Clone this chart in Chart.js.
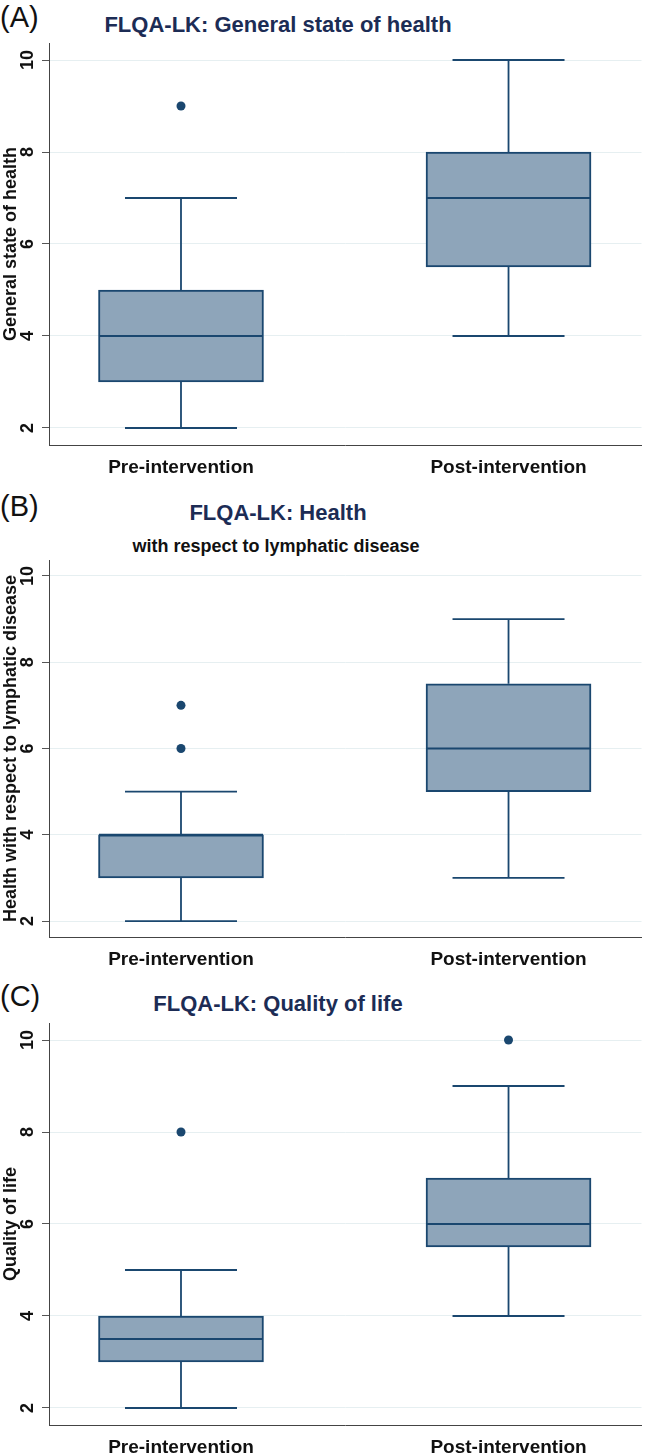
<!DOCTYPE html>
<html>
<head>
<meta charset="utf-8">
<script src="https://cdn.jsdelivr.net/npm/chart.js@4.4.1/dist/chart.umd.min.js"></script>
<style>
  body { margin: 0; background: #fff; width: 646px; height: 1456px; position: relative; overflow: hidden; font-family: "Liberation Sans", Arial, sans-serif; }
  canvas { position: absolute; left: 0; }
  .panel { position: absolute; left: 0; font-size: 29px; line-height: 34px; color: #111; }
  .title { position: absolute; left: 278px; transform: translateX(-50%); white-space: nowrap; font-weight: bold; color: #1c2c55; font-size: 22px; line-height: 26px; }
  .sub { position: absolute; left: 276px; transform: translateX(-50%); white-space: nowrap; font-weight: bold; color: #111; font-size: 18px; line-height: 22px; }
</style>
</head>
<body>
<div class="panel" style="top:0px">(A)</div>
<div class="title" style="top:12px">FLQA-LK: General state of health</div>
<canvas id="chartA" width="646" height="480" style="top:0px"></canvas>

<div class="panel" style="top:489px">(B)</div>
<div class="title" style="top:500px">FLQA-LK: Health</div>
<div class="sub" style="top:535px">with respect to lymphatic disease</div>
<canvas id="chartB" width="646" height="492" style="top:480px"></canvas>

<div class="panel" style="top:979px">(C)</div>
<div class="title" style="top:991px">FLQA-LK: Quality of life</div>
<canvas id="chartC" width="646" height="500" style="top:960px"></canvas>

<script>
const groups = ['Pre-intervention', 'Post-intervention'];
const yTicks = [2, 4, 6, 8, 10];

// (A) general state of health
const healthMin = [2, 4];
const healthQ1 = [3, 5.5];
const healthMed = [4, 7];
const healthQ3 = [5, 8];
const healthMax = [7, 10];
const healthOut = [[9], []];

// (B) health with respect to lymphatic disease
const lymphMin = [2, 3];
const lymphQ1 = [3, 5];
const lymphMed = [4, 6];
const lymphQ3 = [4, 7.5];
const lymphMax = [5, 9];
const lymphOut = [[6, 7], []];

// (C) quality of life
const qolMin = [2, 4];
const qolQ1 = [3, 5.5];
const qolMed = [3.5, 6];
const qolQ3 = [4, 7];
const qolMax = [5, 9];
const qolOut = [[8], [10]];

const lineCol = '#1a476f';
const boxCol = '#8ea5ba';

// whiskers, caps and median line
const boxPlugin = {
    id: 'boxParts',
    afterDatasetsDraw(chart) {
        const st = chart.options.plugins.boxParts;
        const x = chart.scales.x, y = chart.scales.y;
        const ctx = chart.ctx;
        ctx.save();
        ctx.strokeStyle = lineCol;
        for (let i = 0; i < groups.length; i++) {
            const cx = x.getPixelForValue(i);
            ctx.lineWidth = 1.8;
            ctx.beginPath();
            ctx.moveTo(cx, y.getPixelForValue(st.q3[i]));
            ctx.lineTo(cx, y.getPixelForValue(st.max[i]));
            ctx.moveTo(cx, y.getPixelForValue(st.q1[i]));
            ctx.lineTo(cx, y.getPixelForValue(st.min[i]));
            ctx.moveTo(cx - 56, y.getPixelForValue(st.max[i]));
            ctx.lineTo(cx + 56, y.getPixelForValue(st.max[i]));
            ctx.moveTo(cx - 56, y.getPixelForValue(st.min[i]));
            ctx.lineTo(cx + 56, y.getPixelForValue(st.min[i]));
            ctx.stroke();
            ctx.lineWidth = 2;
            ctx.beginPath();
            ctx.moveTo(cx - 82, y.getPixelForValue(st.med[i]));
            ctx.lineTo(cx + 82, y.getPixelForValue(st.med[i]));
            ctx.stroke();
        }
        ctx.restore();
    }
};

function makeChart(id, yTitle, st, padTop) {
    const outPts = [];
    st.out.forEach((arr, i) => arr.forEach(v => outPts.push({ x: i, y: v })));
    const ctx = document.getElementById(id).getContext('2d');
    return new Chart(ctx, {
        type: 'bar',
        data: {
            datasets: [{
                data: groups.map((g, i) => ({ x: i, y: [st.q1[i], st.q3[i]] })),
                backgroundColor: boxCol,
                borderColor: lineCol,
                borderWidth: 2,
                borderSkipped: false,
                barThickness: 165
            }, {
                type: 'scatter',
                data: outPts,
                pointRadius: 4.5,
                backgroundColor: lineCol,
                borderWidth: 0
            }]
        },
        options: {
            responsive: false,
            animation: false,
            layout: { padding: { top: padTop, right: 0, bottom: 0, left: 0 } },
            plugins: {
                legend: { display: false },
                tooltip: { enabled: false },
                boxParts: st
            },
            scales: {
                x: {
                    type: 'linear',
                    offset: false,
                    min: -0.403,
                    max: 1.406,
                    afterBuildTicks: s => { s.ticks = groups.map((g, i) => ({ value: i })); },
                    afterFit: s => { s.height = 35; },
                    grid: { display: false, drawTicks: false, offset: false },
                    border: { display: true, color: '#444', width: 1 },
                    ticks: {
                        autoSkip: false,
                        maxRotation: 0,
                        padding: 11,
                        color: '#111',
                        font: { family: 'Liberation Sans', size: 19, weight: 'bold' },
                        callback: v => groups[v]
                    }
                },
                y: {
                    min: 1.63,
                    max: 10.37,
                    afterBuildTicks: s => { s.ticks = yTicks.map(v => ({ value: v })); },
                    afterFit: s => { s.width = 49; },
                    grid: { color: '#e6eff1', tickColor: '#555', tickLength: 7 },
                    border: { display: true, color: '#444', width: 1 },
                    ticks: {
                        minRotation: 90,
                        maxRotation: 90,
                        crossAlign: 'center',
                        padding: 4,
                        color: '#111',
                        font: { family: 'Liberation Sans', size: 18, weight: 'bold' }
                    },
                    title: {
                        display: true,
                        text: yTitle,
                        padding: 0,
                        color: '#111',
                        font: { family: 'Liberation Sans', size: 18, weight: 'bold' }
                    }
                }
            }
        },
        plugins: [boxPlugin]
    });
}

makeChart('chartA', 'General state of health',
    { min: healthMin, q1: healthQ1, med: healthMed, q3: healthQ3, max: healthMax, out: healthOut }, 43);
makeChart('chartB', 'Health with respect to lymphatic disease',
    { min: lymphMin, q1: lymphQ1, med: lymphMed, q3: lymphQ3, max: lymphMax, out: lymphOut }, 80);
makeChart('chartC', 'Quality of life',
    { min: qolMin, q1: qolQ1, med: qolMed, q3: qolQ3, max: qolMax, out: qolOut }, 63);
</script>
</body>
</html>
